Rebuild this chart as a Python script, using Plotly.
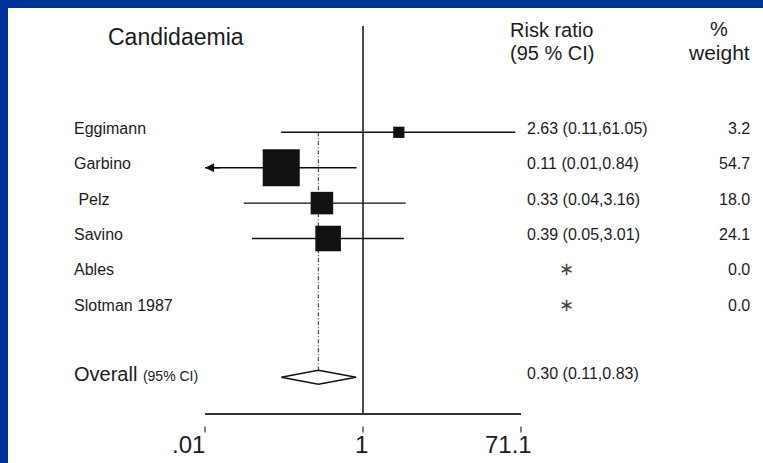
import numpy as np
import plotly.graph_objects as go

# ---------------- data ----------------
title = "Candidaemia"
studies = ["Eggimann", "Garbino", " Pelz", "Savino", "Ables", "Slotman 1987"]
rr = [2.63, 0.11, 0.33, 0.39, None, None]
ci_low = [0.11, 0.01, 0.04, 0.05, None, None]
ci_high = [61.05, 0.84, 3.16, 3.01, None, None]
weights = [3.2, 54.7, 18.0, 24.1, 0.0, 0.0]
overall_rr = 0.30
overall_low = 0.11
overall_high = 0.83
tick_vals = [1 / 71.1, 1, 71.1]
tick_text = [".01", "1", "71.1"]

# ---------------- layout geometry ----------------
W, H = 763, 463
ML, MT = 8, 8
PW, PH = W - ML, H - MT
X_ONE = 363.0          # pixel of RR = 1
PX_DEC = 85.3          # pixels per decade
Y0 = 132.3             # pixel of first row
ROW = 35.4             # pixels per row
overall_row = 6.92

def px_x(px):
    return (px - ML) / PW

def px_y(py):
    return 1 - (py - MT) / PH

def row_of(py):
    return (py - Y0) / ROW

xrange_log = [(ML - X_ONE) / PX_DEC, (W - X_ONE) / PX_DEC]
yrange = [row_of(H), row_of(MT)]

xmin, xmax = tick_vals[0], tick_vals[-1]
INK = "#111111"
TXT = "#1c1c1c"
BLUE = "#003399"
FONT = "Liberation Sans, Arial, sans-serif"

fig = go.Figure()

# null line at RR = 1
fig.add_trace(go.Scatter(x=[1, 1], y=[row_of(26), row_of(414)], mode="lines",
                         line=dict(color=INK, width=1.5), hoverinfo="skip"))
# axis line
fig.add_trace(go.Scatter(x=[xmin, xmax], y=[row_of(414), row_of(414)], mode="lines",
                         line=dict(color="#333333", width=2), hoverinfo="skip"))
# tick marks
for tv in tick_vals:
    fig.add_trace(go.Scatter(x=[tv, tv], y=[row_of(426.5), row_of(432.5)], mode="lines",
                             line=dict(color="#333333", width=1.2), hoverinfo="skip"))

# dashed line at overall estimate
fig.add_trace(go.Scatter(x=[overall_rr, overall_rr], y=[0, overall_row], mode="lines",
                         line=dict(color="#555555", width=1.3, dash="4px,2px,1px,2px"),
                         hoverinfo="skip"))

# CI lines
for i in range(len(studies)):
    if rr[i] is None:
        continue
    lo = max(ci_low[i], xmin)
    hi = min(ci_high[i], xmax)
    fig.add_trace(go.Scatter(x=[lo, hi], y=[i, i], mode="lines",
                             line=dict(color=INK, width=1.4), hoverinfo="skip"))
    if ci_low[i] < xmin:
        fig.add_annotation(x=np.log10(xmin), y=i, xref="x", yref="y", text="",
                           showarrow=True, arrowhead=2, arrowsize=1.3, arrowwidth=1.4,
                           arrowcolor=INK, ax=16, ay=0, standoff=0)

# squares (area proportional to weight)
sx = [rr[i] for i in range(len(studies)) if rr[i] is not None]
sy = [i for i in range(len(studies)) if rr[i] is not None]
ss = [4.6 * np.sqrt(weights[i]) + 3 for i in range(len(studies)) if rr[i] is not None]
fig.add_trace(go.Scatter(x=sx, y=sy, mode="markers",
                         marker=dict(symbol="square", size=ss, color=INK, opacity=1,
                                     line=dict(width=0)), hoverinfo="skip"))

# overall diamond
dh = 0.2
fig.add_trace(go.Scatter(x=[overall_low, overall_rr, overall_high, overall_rr, overall_low],
                         y=[overall_row, overall_row - dh, overall_row, overall_row + dh, overall_row],
                         mode="lines", fill="toself", fillcolor="white",
                         line=dict(color=INK, width=1.5), hoverinfo="skip"))

ann = []
# headers
ann.append(dict(x=px_x(106), y=px_y(37), xref="paper", yref="paper", text=title,
                showarrow=False, xanchor="left", yanchor="middle",
                font=dict(size=23, color=TXT, family=FONT)))
ann.append(dict(x=px_x(508), y=px_y(30), xref="paper", yref="paper", text="Risk ratio",
                showarrow=False, xanchor="left", yanchor="middle",
                font=dict(size=20, color=TXT, family=FONT)))
ann.append(dict(x=px_x(508), y=px_y(53), xref="paper", yref="paper", text="(95 % CI)",
                showarrow=False, xanchor="left", yanchor="middle",
                font=dict(size=20, color=TXT, family=FONT)))
ann.append(dict(x=px_x(719), y=px_y(29), xref="paper", yref="paper", text="%",
                showarrow=False, xanchor="center", yanchor="middle",
                font=dict(size=20, color=TXT, family=FONT)))
ann.append(dict(x=px_x(719), y=px_y(53), xref="paper", yref="paper", text="weight",
                showarrow=False, xanchor="center", yanchor="middle",
                font=dict(size=21, color=TXT, family=FONT)))

# study rows
for i, s in enumerate(studies):
    ann.append(dict(x=px_x(72), y=i, xref="paper", yref="y", text=s, showarrow=False,
                    xanchor="left", yanchor="middle", yshift=4,
                    font=dict(size=16, color=TXT, family=FONT)))
    if rr[i] is not None:
        est = f"{rr[i]:.2f} ({ci_low[i]:.2f},{ci_high[i]:.2f})"
        ann.append(dict(x=px_x(525), y=i, xref="paper", yref="y", text=est, showarrow=False,
                        xanchor="left", yanchor="middle", yshift=4,
                        font=dict(size=16, color=TXT, family=FONT)))
    else:
        ann.append(dict(x=px_x(566), y=i, xref="paper", yref="y", text="\u2217", showarrow=False,
                        xanchor="center", yanchor="middle", yshift=5,
                        font=dict(size=18, color="#444444", family="DejaVu Sans")))
    ann.append(dict(x=px_x(752), y=i, xref="paper", yref="y", text=f"{weights[i]:.1f}",
                    showarrow=False, xanchor="right", yanchor="middle", yshift=4,
                    font=dict(size=16, color=TXT, family=FONT)))

# overall row
ann.append(dict(x=px_x(72), y=overall_row, xref="paper", yref="y",
                text="Overall <span style='font-size:14px'>(95% CI)</span>",
                showarrow=False, xanchor="left", yanchor="middle", yshift=3,
                font=dict(size=20, color=TXT, family=FONT)))
ann.append(dict(x=px_x(525), y=overall_row, xref="paper", yref="y",
                text=f"{overall_rr:.2f} ({overall_low:.2f},{overall_high:.2f})",
                showarrow=False, xanchor="left", yanchor="middle", yshift=4,
                font=dict(size=16, color=TXT, family=FONT)))

# tick labels
anchors = ["right", "center", "center"]
offsets = [2, -2, -12]
for tv, tt, an, off in zip(tick_vals, tick_text, anchors, offsets):
    ann.append(dict(x=np.log10(tv), y=row_of(444), xref="x", yref="y", text=tt,
                    showarrow=False, xanchor=an, yanchor="middle", xshift=off,
                    font=dict(size=24, color=TXT,
                              family="Liberation Sans Narrow, Liberation Sans, Arial")))

# blue frame (top and left) ; rest of the page white
shapes = [
    dict(type="rect", xref="paper", yref="paper", x0=px_x(-5), x1=px_x(ML), y0=-0.1, y1=1.1,
         fillcolor=BLUE, line=dict(width=0), layer="above"),
    dict(type="rect", xref="paper", yref="paper", x0=px_x(-5), x1=1.1, y0=px_y(MT), y1=px_y(-5),
         fillcolor=BLUE, line=dict(width=0), layer="above"),
]

fig.update_layout(
    width=W, height=H,
    margin=dict(l=ML, t=MT, r=0, b=0, pad=0),
    paper_bgcolor="white",
    plot_bgcolor="white",
    showlegend=False,
    shapes=shapes,
    annotations=fig.layout.annotations + tuple(ann),
    xaxis=dict(type="log", range=xrange_log, domain=[0, 1], visible=False,
               showgrid=False, zeroline=False, fixedrange=True),
    yaxis=dict(range=yrange, domain=[0, 1], visible=False,
               showgrid=False, zeroline=False, fixedrange=True),
)

fig.write_html("out.html")
